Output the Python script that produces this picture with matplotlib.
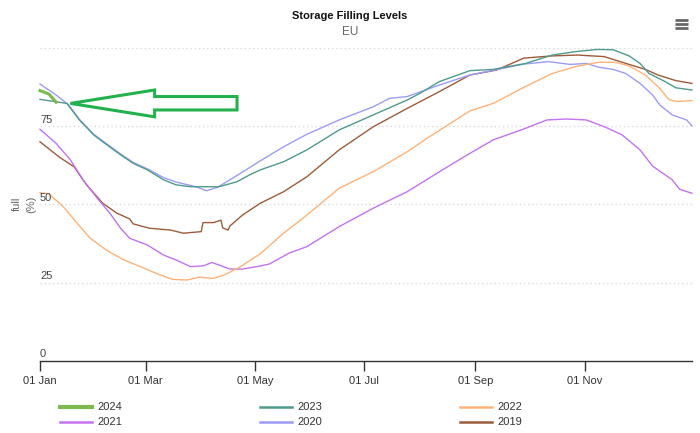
"""Storage filling levels, EU — one line per year, day-of-year on x."""
import matplotlib
matplotlib.use("Agg")
import matplotlib.pyplot as plt
from matplotlib.lines import Line2D
from matplotlib.patches import Polygon
from matplotlib.transforms import blended_transform_factory

plt.rcParams["font.family"] = ["Liberation Sans", "DejaVu Sans"]

# ---- data (day of year, % full) -------------------------------------------
days_2024 = [0, 5, 9]
vals_2024 = [86.5, 85.4, 82.8]

days_2023 = [0, 15, 22, 30, 35, 45, 52, 60, 69, 76, 84, 93, 100, 110, 117, 123,
             136, 149, 167, 186, 205, 212, 223, 240, 253, 271, 286, 299, 311,
             320, 329, 335, 340, 349, 355, 364]
vals_2023 = [83.7, 82.4, 77.1, 72.3, 70.1, 65.9, 63.2, 61.1, 57.9, 56.3, 55.7,
             55.7, 55.7, 57.3, 59.5, 61.1, 63.7, 67.5, 73.9, 78.7, 83.5, 85.6,
             89.4, 92.9, 93.3, 95.2, 97.9, 99.0, 99.7, 99.6, 97.6, 95.2, 92.0,
             89.4, 87.4, 86.7]

days_2022 = [0, 5, 13, 20, 28, 37, 47, 56, 65, 74, 82, 89, 97, 104, 112, 123,
             136, 149, 167, 186, 205, 216, 240, 253, 271, 286, 299, 312, 322,
             329, 338, 346, 351, 355, 364]
vals_2022 = [53.8, 53.4, 49.3, 44.5, 39.2, 35.4, 32.2, 30.1, 27.9, 26.0, 25.8,
             26.7, 26.3, 27.7, 30.1, 34.2, 40.8, 46.6, 55.2, 60.5, 66.9, 71.2,
             80.0, 82.4, 87.8, 92.0, 94.2, 95.6, 95.5, 94.4, 91.5, 87.2, 83.7,
             83.0, 83.3]

days_2021 = [0, 9, 17, 24, 32, 39, 45, 50, 60, 69, 76, 84, 91, 96, 100, 106,
             113, 123, 128, 139, 149, 167, 186, 205, 223, 240, 253, 271, 283,
             294, 305, 316, 325, 335, 342, 353, 357, 364]
vals_2021 = [74.1, 69.6, 64.3, 57.9, 52.0, 47.2, 42.4, 39.2, 37.0, 33.8, 32.2,
             30.1, 30.3, 31.4, 30.6, 29.3, 29.3, 30.3, 30.9, 34.4, 36.5, 42.9,
             48.8, 54.1, 60.5, 66.4, 70.7, 74.4, 77.1, 77.4, 77.1, 74.7, 72.3,
             67.5, 62.3, 57.9, 54.9, 53.6]

days_2020 = [0, 9, 16, 22, 30, 35, 45, 52, 60, 69, 76, 87, 93, 99, 106, 115,
             123, 136, 149, 167, 186, 195, 205, 223, 240, 253, 270, 284, 296,
             305, 312, 320, 327, 335, 342, 346, 353, 361, 364]
vals_2020 = [88.6, 85.1, 81.9, 77.3, 72.5, 70.4, 66.2, 63.5, 61.4, 58.6, 57.2,
             55.7, 54.4, 55.5, 57.9, 61.1, 64.0, 68.5, 72.5, 77.1, 81.3, 84.0,
             84.6, 88.3, 91.5, 93.0, 95.0, 95.8, 94.9, 95.2, 94.0, 93.3, 92.0,
             88.8, 85.1, 81.9, 78.7, 77.1, 75.2]

days_2019 = [0, 11, 19, 26, 35, 43, 50, 52, 61, 73, 80, 90, 91, 97, 101, 102,
             105, 106, 113, 123, 136, 149, 167, 186, 205, 223, 240, 255, 270,
             285, 300, 315, 330, 338, 345, 355, 364]
vals_2019 = [70.1, 65.1, 62.1, 56.3, 50.4, 47.2, 45.4, 43.8, 42.4, 41.8, 40.8,
             41.3, 44.2, 44.2, 45.0, 42.5, 41.8, 43.1, 46.6, 50.4, 54.1, 58.9,
             67.5, 74.9, 80.8, 86.2, 91.5, 93.1, 96.9, 97.6, 97.9, 97.4, 94.7,
             93.3, 91.5, 89.7, 88.8]

years = ["2024", "2023", "2022", "2021", "2020", "2019"]
colors = ["#7cb94f", "#4f9a8c", "#ffb27a", "#c472f0", "#9c9cf7", "#9c5c3c"]
series = [(days_2024, vals_2024), (days_2023, vals_2023), (days_2022, vals_2022),
          (days_2021, vals_2021), (days_2020, vals_2020), (days_2019, vals_2019)]

tick_days = [0, 59, 120, 181, 243, 304]
tick_labels = ["01 Jan", "01 Mar", "01 May", "01 Jul", "01 Sep", "01 Nov"]
y_grid = [25, 50, 75, 100]
y_labels = [0, 25, 50, 75]

# annotation arrow (day, %) outline
arrow_days = [17, 64, 64, 110, 110, 64, 64]
arrow_vals = [82.4, 86.7, 84.6, 84.6, 80.3, 80.3, 78.1]

# ---- figure ---------------------------------------------------------------
W, H = 700, 433
fig = plt.figure(figsize=(W / 100, H / 100), dpi=100)
ax = fig.add_axes([40 / W, 1 - 360.5 / H, 652 / W, 312 / H])
ax.set_xlim(0, 364)
ax.set_ylim(0, 100)

for y in y_grid:
    ax.axhline(y, color="#d9d9d9", lw=1, ls=(0, (1, 2)), zorder=0)

# draw oldest first so 2024 ends up on top
for (d, v), c, yr in reversed(list(zip(series, colors, years))):
    lw = 2.2 if yr == "2024" else 1.0
    ax.plot(d, v, color=c, lw=lw, solid_joinstyle="round", clip_on=False)

ax.add_patch(Polygon(list(zip(arrow_days, arrow_vals)), closed=True,
                     fill=False, edgecolor="#22b14c", lw=2.2, joinstyle="miter"))

for s in ["top", "right", "left"]:
    ax.spines[s].set_visible(False)
ax.spines["bottom"].set_color("#333333")
ax.spines["bottom"].set_linewidth(1)
ax.set_xticks(tick_days)
ax.set_xticklabels(tick_labels)
ax.tick_params(axis="x", length=7, width=1, color="#333333", pad=4,
               labelsize=8, labelcolor="#333333")
ax.set_yticks([])

tr = blended_transform_factory(ax.transAxes, ax.transData)
for v in y_labels:
    ax.text(0.0, v + 0.6, str(v), transform=tr, ha="left", va="bottom",
            fontsize=8, color="#444444")

fig.text(17 / W, 1 - 204 / H, "full", rotation=90, ha="center", va="center",
         fontsize=8, color="#666666")
fig.text(31 / W, 1 - 204 / H, "(%)", rotation=90, ha="center", va="center",
         fontsize=8, color="#666666")

fig.text(0.5, 1 - 16 / H, "Storage Filling Levels", ha="center", va="center",
         fontsize=8, fontweight="bold", color="#111111")
fig.text(0.5, 1 - 32 / H, "EU", ha="center", va="center", fontsize=8.5,
         color="#666666")

# context menu icon
for yy in (20, 24, 28.3):
    fig.add_artist(Line2D([675 / W, 688 / W], [1 - yy / H, 1 - yy / H],
                          color="#666666", lw=2, solid_capstyle="butt"))

# legend, 3 columns x 2 rows
for i, (yr, c) in enumerate(zip(years, colors)):
    col, row = i % 3, i // 3
    x0 = 60 + col * 200
    yy = 407 + row * 15
    lw = 3 if yr == "2024" else 1.8
    fig.add_artist(Line2D([x0 / W, (x0 + 32) / W], [1 - yy / H, 1 - yy / H],
                          color=c, lw=lw))
    fig.text((x0 + 37) / W, 1 - yy / H, yr, ha="left", va="center",
             fontsize=8, color="#333333")

fig.savefig("out.png", dpi=100)
